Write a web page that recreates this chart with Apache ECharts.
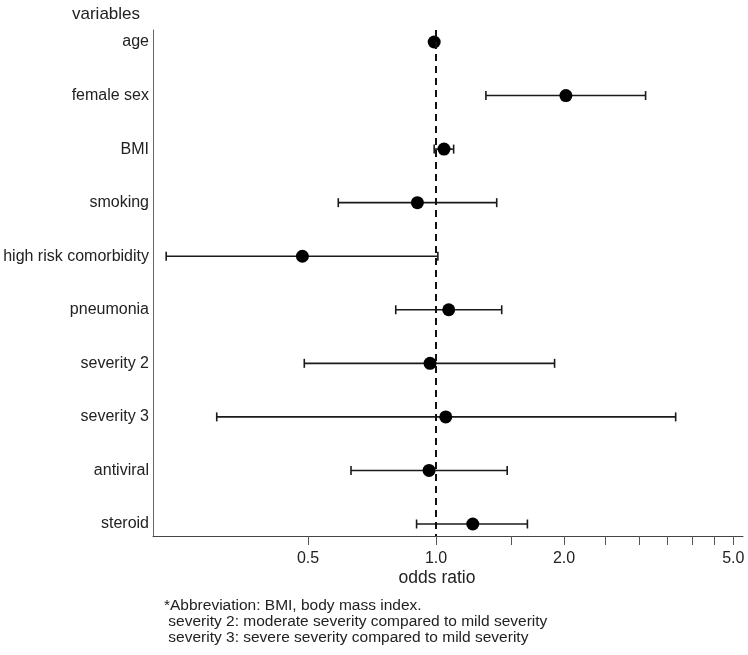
<!DOCTYPE html>
<html>
<head>
<meta charset="utf-8">
<script src="https://cdn.jsdelivr.net/npm/echarts@6/dist/echarts.min.js"></script>
<style>
html,body{margin:0;padding:0;background:#fff;}
#chart{width:748px;height:655px;}
</style>
</head>
<body>
<div id="chart"></div>
<script>
var variables = ['age','female sex','BMI','smoking','high risk comorbidity','pneumonia','severity 2','severity 3','antiviral','steroid'];
var oddsRatio = [0.99, 2.02, 1.044, 0.904, 0.485, 1.071, 0.968, 1.054, 0.963, 1.22];
var ciLow    = [0.975, 1.31, 0.99, 0.589, 0.232, 0.804, 0.49, 0.305, 0.631, 0.90];
var ciHigh   = [1.005, 3.11, 1.10, 1.389, 1.01, 1.427, 1.90, 3.66, 1.47, 1.64];
var tickValues = [0.5, 1.0, 1.5, 2.0, 2.5, 3.0, 3.5, 4.0, 4.5, 5.0];
var labelValues = [0.5, 1.0, 2.0, 5.0];
var footnotes = ['*Abbreviation: BMI, body mass index.',
                 ' severity 2: moderate severity compared to mild severity',
                 ' severity 3: severe severity compared to mild severity'];

var FONT = '"Liberation Sans", Arial, Helvetica, sans-serif';
var chart = echarts.init(document.getElementById('chart'), null, {renderer: 'canvas'});

var idx = variables.map(function(_, i){ return i; });
var pointData = idx.map(function(i){ return [oddsRatio[i], i]; });
var ciData = idx.map(function(i){ return [ciLow[i], ciHigh[i], i]; });

var option = {
  animation: false,
  backgroundColor: '#fff',
  grid: {left: 153, right: 5, top: 30, bottom: 119, containLabel: false},
  title: {
    text: 'variables', left: 67, top: 1,
    textStyle: {fontFamily: FONT, fontSize: 17, fontWeight: 'normal', color: '#222'}
  },
  xAxis: {
    type: 'log', logBase: 10, min: 0.216, max: 5.27,
    splitLine: {show: false},
    axisLine: {show: true, onZero: false, lineStyle: {color: '#444', width: 1}},
    axisTick: {show: true, customValues: tickValues, length: 9, lineStyle: {color: '#555', width: 1}},
    axisLabel: {show: true, customValues: labelValues, margin: 15,
      fontFamily: FONT, fontSize: 16, color: '#222',
      formatter: function(v){ return Number(v).toFixed(1); }},
    minorTick: {show: false}
  },
  yAxis: {
    type: 'value', inverse: true, min: -0.224, max: 9.224,
    splitLine: {show: false},
    axisLine: {show: true, onZero: false, lineStyle: {color: '#666', width: 1}},
    axisTick: {show: false},
    axisLabel: {show: true, customValues: idx, margin: 4,
      fontFamily: FONT, fontSize: 16, color: '#222',
      formatter: function(v){ return variables[Math.round(v)]; }}
  },
  series: [
    {
      type: 'custom',
      data: ciData,
      encode: {x: [0, 1], y: 2},
      renderItem: function(params, api){
        var y = api.value(2);
        var a = api.coord([api.value(0), y]);
        var b = api.coord([api.value(1), y]);
        var h = 4.5;
        var st = {stroke: '#1a1a1a', lineWidth: 1.6};
        return {
          type: 'group',
          children: [
            {type: 'line', shape: {x1: a[0], y1: a[1], x2: b[0], y2: b[1]}, style: st},
            {type: 'line', shape: {x1: a[0], y1: a[1]-h, x2: a[0], y2: a[1]+h}, style: st},
            {type: 'line', shape: {x1: b[0], y1: b[1]-h, x2: b[0], y2: b[1]+h}, style: st}
          ]
        };
      },
      z: 2
    },
    {
      type: 'scatter',
      data: pointData,
      symbol: 'circle',
      symbolSize: 13,
      itemStyle: {color: '#000', opacity: 1},
      z: 3,
      markLine: {
        silent: true,
        symbol: ['none', 'none'],
        label: {show: false},
        lineStyle: {color: '#111', width: 2, type: [7, 5]},
        data: [{xAxis: 1}]
      }
    }
  ],
  graphic: [
    {type: 'text', x: 437, y: 578, style: {text: 'odds ratio', font: '17.5px ' + FONT, fill: '#222', textAlign: 'center', textVerticalAlign: 'middle'}},
    {type: 'text', x: 164, y: 606, style: {text: footnotes[0], font: '15.5px ' + FONT, fill: '#222', textVerticalAlign: 'middle'}},
    {type: 'text', x: 164, y: 622, style: {text: footnotes[1], font: '15.5px ' + FONT, fill: '#222', textVerticalAlign: 'middle'}},
    {type: 'text', x: 164, y: 638, style: {text: footnotes[2], font: '15.5px ' + FONT, fill: '#222', textVerticalAlign: 'middle'}}
  ]
};
chart.setOption(option);
</script>
</body>
</html>
